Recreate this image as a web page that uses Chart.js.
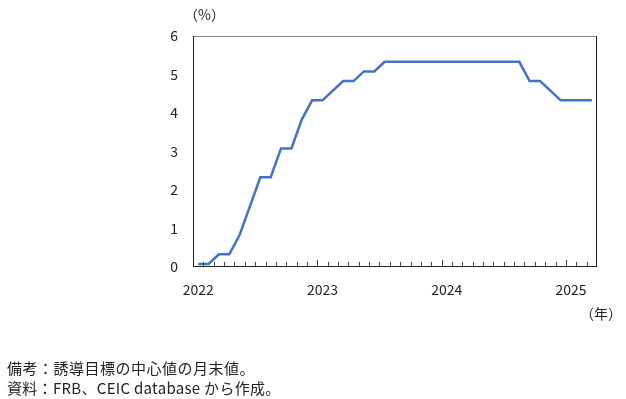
<!DOCTYPE html>
<html>
<head>
<meta charset="utf-8">
<script src="https://cdn.jsdelivr.net/npm/chart.js@4"></script>
<style>
  body { margin: 0; background: #fff; }
  #wrap { position: relative; width: 626px; height: 399px; font-family: "Noto Sans CJK JP", sans-serif; color: #222; }
  .note { position: absolute; white-space: nowrap; }
</style>
</head>
<body>
<div id="wrap">
  <canvas id="rateChart" width="626" height="399"></canvas>
  <div class="note" style="left:184px; top:4px; font-size:14px;">（%）</div>
  <div class="note" style="left:580px; top:303px; font-size:14px;">（年）</div>
  <div class="note" style="left:7px; top:357px; font-size:15px; letter-spacing:0.5px;">備考：誘導目標の中心値の月末値。</div>
  <div class="note" style="left:7px; top:377px; font-size:15px; letter-spacing:0.3px;">資料：FRB、CEIC database から作成。</div>
</div>
<script>
const months = [
  '2022-01','2022-02','2022-03','2022-04','2022-05','2022-06','2022-07','2022-08','2022-09','2022-10','2022-11','2022-12',
  '2023-01','2023-02','2023-03','2023-04','2023-05','2023-06','2023-07','2023-08','2023-09','2023-10','2023-11','2023-12',
  '2024-01','2024-02','2024-03','2024-04','2024-05','2024-06','2024-07','2024-08','2024-09','2024-10','2024-11','2024-12',
  '2025-01','2025-02','2025-03'
];

// target midpoint, month end (%)
const rates = [
  0.08, 0.08, 0.33, 0.33, 0.83, 1.58, 2.33, 2.33, 3.08, 3.08, 3.83, 4.33,
  4.33, 4.58, 4.83, 4.83, 5.08, 5.08, 5.33, 5.33, 5.33, 5.33, 5.33, 5.33,
  5.33, 5.33, 5.33, 5.33, 5.33, 5.33, 5.33, 5.33, 4.83, 4.83, 4.58, 4.33,
  4.33, 4.33, 4.33
];

const yTicks = [0, 1, 2, 3, 4, 5, 6];

const tickFont = { family: "'Noto Sans CJK JP', sans-serif", size: 14 };

// frame + small inward month ticks on the x axis
const framePlugin = {
  id: 'frame',
  afterDraw(chart) {
    const { ctx, chartArea: a } = chart;
    const xs = chart.scales.x;
    ctx.save();
    ctx.lineWidth = 1;
    ctx.strokeStyle = '#8a8a8a';
    ctx.beginPath();
    ctx.moveTo(a.left, a.top + 0.5);
    ctx.lineTo(a.right, a.top + 0.5);
    ctx.stroke();
    ctx.strokeStyle = '#222';
    ctx.beginPath();
    ctx.moveTo(a.left + 0.5, a.top);
    ctx.lineTo(a.left + 0.5, a.bottom);
    ctx.moveTo(a.right - 0.5, a.top);
    ctx.lineTo(a.right - 0.5, a.bottom);
    ctx.moveTo(a.left, a.bottom - 0.5);
    ctx.lineTo(a.right, a.bottom - 0.5);
    ctx.stroke();
    ctx.strokeStyle = '#444';
    ctx.beginPath();
    for (let i = 1; i < months.length; i++) {
      const x = Math.round((xs.getPixelForValue(i - 1) + xs.getPixelForValue(i)) / 2) + 0.5;
      const len = months[i].endsWith('-01') ? 6 : 4;
      ctx.moveTo(x, a.bottom - 1);
      ctx.lineTo(x, a.bottom - 1 - len);
    }
    ctx.stroke();
    ctx.restore();
  }
};

new Chart(document.getElementById('rateChart').getContext('2d'), {
  type: 'line',
  data: {
    labels: months,
    datasets: [{
      data: rates,
      borderColor: '#4472C4',
      borderWidth: 2.5,
      pointRadius: 0,
      tension: 0,
      fill: false
    }]
  },
  options: {
    responsive: false,
    animation: false,
    devicePixelRatio: 1,
    layout: { padding: { left: 153, top: 36, right: 29, bottom: 92 } },
    plugins: {
      legend: { display: false },
      tooltip: { enabled: false }
    },
    scales: {
      x: {
        offset: true,
        grid: { display: false, drawTicks: false },
        border: { display: false },
        afterFit: (s) => { s.height = 40; },
        ticks: {
          autoSkip: false,
          maxRotation: 0,
          padding: 14,
          color: '#222',
          font: tickFont,
          callback: (v, i) => months[i].endsWith('-01') ? months[i].slice(0, 4) : ''
        }
      },
      y: {
        min: 0,
        max: 6,
        grid: { display: false, drawTicks: false },
        border: { display: false },
        afterFit: (s) => { s.width = 40; },
        afterBuildTicks: (s) => { s.ticks = yTicks.map(v => ({ value: v })); },
        ticks: {
          padding: 15,
          color: '#222',
          font: tickFont
        }
      }
    }
  },
  plugins: [framePlugin]
});
</script>
</body>
</html>
